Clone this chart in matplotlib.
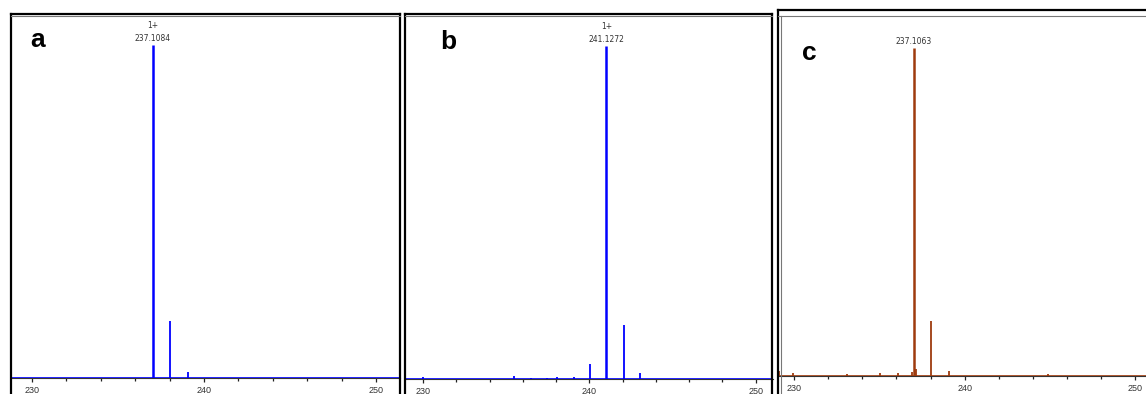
import matplotlib
matplotlib.use("Agg")
import matplotlib.pyplot as plt
from matplotlib.lines import Line2D

W, H = 1146, 394

# ---- data ----
a_mz = [237.03, 238.01, 239.05]
a_int = [100, 17.1, 1.8]
a_label = "1+\n237.1084"

b_mz = [230.0, 235.47, 236.5, 237.45, 238.03, 239.05, 240.02, 241.03, 242.06, 243.04]
b_int = [0.4, 0.7, 0.3, 0.3, 0.6, 0.4, 4.4, 100, 16.1, 1.7]
b_label = "1+\n241.1272"

c_mz = [229.1, 229.94, 233.1, 235.04, 236.07, 236.93, 237.03, 237.13, 238.04, 239.06, 244.9]
c_int = [1.4, 0.7, 0.5, 0.7, 0.8, 1.0, 100, 2.0, 16.8, 1.3, 0.4]
c_label = "237.1063"

major_ticks = [230, 240, 250]
minor_ticks = [232, 234, 236, 238, 242, 244, 246, 248]

panels = [
    dict(letter="a", mz=a_mz, inten=a_int, label=a_label, color="#0000FF",
         left=10.5, right=399.5, top_black=13.5, top_gray=16.0, base=377.7,
         px230=32.0, px250=376.0, peak_top=45.0, letter_xy=(38, 40), double_left=False),
    dict(letter="b", mz=b_mz, inten=b_int, label=b_label, color="#0000FF",
         left=405.0, right=772.5, top_black=13.5, top_gray=16.0, base=378.7,
         px230=423.0, px250=755.7, peak_top=46.0, letter_xy=(448, 42), double_left=False),
    dict(letter="c", mz=c_mz, inten=c_int, label=c_label, color="#9E3B0E",
         left=777.5, right=1150.0, top_black=9.5, top_gray=16.0, base=375.7,
         px230=794.0, px250=1135.3, peak_top=48.0, letter_xy=(809, 53), double_left=True),
]

fig = plt.figure(figsize=(W / 100, H / 100), dpi=100)
fig.patch.set_facecolor("white")

def fx(x):
    return x / W

def fy(y):
    return 1 - y / H

for p in panels:
    ppu = (p["px250"] - p["px230"]) / 20.0
    ax = fig.add_axes([fx(p["left"]), fy(p["base"]),
                       (p["right"] - p["left"]) / W, (p["base"] - p["top_gray"]) / H])
    ax.set_xlim(230 + (p["left"] - p["px230"]) / ppu, 230 + (p["right"] - p["px230"]) / ppu)
    ytop = 100 * (p["base"] - p["top_gray"]) / (p["base"] - p["peak_top"])
    ax.set_ylim(0, ytop)
    ax.patch.set_alpha(0)
    for s in ["top", "left", "right"]:
        ax.spines[s].set_visible(False)
    ax.spines["bottom"].set_color("#333333")
    ax.spines["bottom"].set_linewidth(0.8)
    ax.set_yticks([])
    ax.set_xticks(major_ticks)
    ax.set_xticks(minor_ticks, minor=True)
    ax.tick_params(axis="x", which="both", direction="out", length=3, width=0.9,
                   color="#222222", labelsize=6.5, labelcolor="#333333", pad=3)
    ax.tick_params(axis="x", which="minor", length=2.5)
    for t in ax.get_xticklabels():
        t.set_fontfamily("Liberation Sans")
    # baseline trace
    ax.axhline(0, color=p["color"], lw=1.2, zorder=3)
    # peaks
    widths = [1.8 if v > 50 else 1.3 for v in p["inten"]]
    ax.vlines(p["mz"], 0, p["inten"], colors=p["color"], linewidths=widths, zorder=4)
    # peak annotation
    imax = p["inten"].index(max(p["inten"]))
    ax.annotate(p["label"], xy=(p["mz"][imax], p["inten"][imax]), xytext=(0, 1.5),
                textcoords="offset points", ha="center", va="bottom", fontsize=5.5,
                color="#333333", family="DejaVu Sans", linespacing=1.5)
    # panel letter
    fig.text(fx(p["letter_xy"][0]), fy(p["letter_xy"][1]), p["letter"], fontsize=19,
             fontweight="bold", family="Liberation Sans", ha="center", va="center")
    # frame lines
    L, R = fx(p["left"]), fx(p["right"])
    tb, tg = fy(p["top_black"]), fy(p["top_gray"])
    fig.add_artist(Line2D([L, L], [0, tb], transform=fig.transFigure, color="black", lw=1.6))
    fig.add_artist(Line2D([R, R], [0, tb], transform=fig.transFigure, color="black", lw=1.6))
    fig.add_artist(Line2D([L, R], [tb, tb], transform=fig.transFigure, color="black", lw=1.6))
    fig.add_artist(Line2D([L, R], [tg, tg], transform=fig.transFigure, color="#777777", lw=0.8))
    if p["double_left"]:
        L2 = fx(p["left"] + 3)
        fig.add_artist(Line2D([L2, L2], [0, tg], transform=fig.transFigure, color="#777777", lw=0.8))

fig.savefig("out.png", dpi=100)
